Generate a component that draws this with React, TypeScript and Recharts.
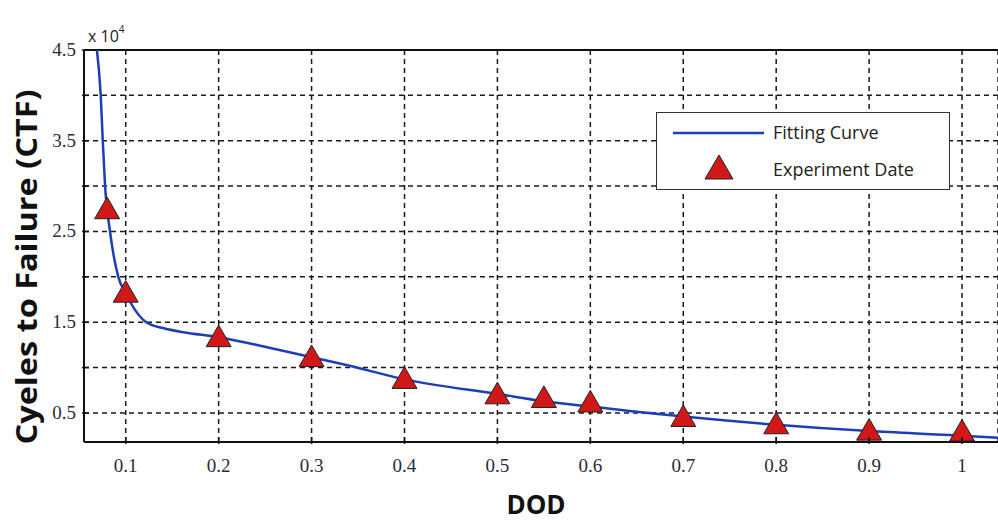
import React from 'react';
import {
  ComposedChart,
  Line,
  Scatter,
  XAxis,
  YAxis,
  ZAxis,
  CartesianGrid,
  ReferenceLine,
} from 'recharts';

// Experiment data (CTF in units of 10^4 cycles)
const expDod = [0.08, 0.1, 0.2, 0.3, 0.4, 0.5, 0.55, 0.6, 0.7, 0.8, 0.9, 1.0];
const expCtf = [2.72, 1.8, 1.31, 1.09, 0.85, 0.68, 0.64, 0.59, 0.43, 0.35, 0.28, 0.27];

// Fitting curve
const fitDod = [0.069, 0.0731, 0.0753, 0.0778, 0.0831, 0.092, 0.1, 0.105, 0.122, 0.142, 0.162, 0.2, 0.252, 0.3, 0.341, 0.4, 0.5, 0.55, 0.6, 0.7, 0.8, 0.9, 1.0, 1.04];
const fitCtf = [4.5, 4.0, 3.5, 3.0, 2.5, 2.0, 1.82, 1.72, 1.5, 1.43, 1.39, 1.335, 1.225, 1.115, 1.02, 0.87, 0.71, 0.63, 0.57, 0.46, 0.37, 0.3, 0.25, 0.225];

const xTicks = [0.1, 0.2, 0.3, 0.4, 0.5, 0.6, 0.7, 0.8, 0.9, 1.0];
const yTicks = [0.5, 1.0, 1.5, 2.0, 2.5, 3.0, 3.5, 4.0, 4.5];
const yLabeled = [0.5, 1.5, 2.5, 3.5, 4.5];

const seriesNames = ['Fitting Curve', 'Experiment Date'];

const fitData = fitDod.map((x, i) => ({ x, y: fitCtf[i] }));
const expData = expDod.map((x, i) => ({ x, y: expCtf[i] }));

const BLUE = '#1c3fb8';
const RED = '#d01818';
const TICK_COLOR = '#2b2b40';

const XTick = (props: any) => {
  const { x, y, payload } = props;
  const v = payload.value;
  const label = v === 1 ? '1' : v.toFixed(1);
  return (
    <g>
      <line x1={x} y1={y} x2={x} y2={y - 7} stroke="#111" strokeWidth={1.5} />
      <text
        x={x}
        y={y + 28}
        textAnchor="middle"
        fontFamily="Liberation Serif"
        fontSize={19}
        fill={TICK_COLOR}
      >
        {label}
      </text>
    </g>
  );
};

const YTick = (props: any) => {
  const { x, y, payload } = props;
  const v = payload.value;
  const show = yLabeled.some((t) => Math.abs(t - v) < 1e-6);
  return (
    <g>
      <line x1={x} y1={y} x2={x + 7} y2={y} stroke="#111" strokeWidth={1.5} />
      {show && (
        <text
          x={x - 6}
          y={y + 6}
          textAnchor="end"
          fontFamily="Liberation Serif"
          fontSize={19}
          fill={TICK_COLOR}
        >
          {v.toFixed(1)}
        </text>
      )}
    </g>
  );
};

const YLabel = (props: any) => {
  const vb = props.viewBox;
  const cx = vb.x + 37;
  const cy = vb.y + vb.height / 2 + 21;
  return (
    <text
      x={cx}
      y={cy}
      transform={`rotate(-90, ${cx}, ${cy})`}
      textAnchor="middle"
      fontFamily="Open Sans"
      fontWeight="bold"
      fontSize={28}
      fill="#111"
      textLength={355}
      lengthAdjust="spacingAndGlyphs"
    >
      Cyeles to Failure (CTF)
    </text>
  );
};

const XLabel = (props: any) => {
  const vb = props.viewBox;
  const cx = vb.x + vb.width / 2 - 5;
  return (
    <text
      x={cx}
      y={vb.y + 72}
      textAnchor="middle"
      fontFamily="Open Sans"
      fontWeight="bold"
      fontSize={26}
      fill="#111"
    >
      DOD
    </text>
  );
};

const LegendBox = () => (
  <div
    style={{
      position: 'absolute',
      left: 656,
      top: 112,
      width: 294,
      height: 78,
      boxSizing: 'border-box',
      border: '1.5px solid #333',
      background: '#fff',
    }}
  >
    <svg width={291} height={75} style={{ display: 'block' }}>
      <line x1={16} y1={20} x2={107} y2={20} stroke={BLUE} strokeWidth={2.5} />
      <text x={116} y={26} fontFamily="Open Sans" fontSize={18} fill="#222">
        {seriesNames[0]}
      </text>
      <polygon points="62,42 48,66 76,66" fill={RED} stroke="#222" strokeWidth={1} />
      <text x={116} y={63} fontFamily="Open Sans" fontSize={18} fill="#222">
        {seriesNames[1]}
      </text>
    </svg>
  </div>
);

export default function App() {
  return (
    <div style={{ position: 'absolute', left: 0, top: 0, width: 998, height: 522, background: '#fff' }}>
      <ComposedChart
        width={998}
        height={522}
        margin={{ top: 50, right: 0, bottom: 0, left: 0 }}
      >
        <CartesianGrid stroke="#1a1a1a" strokeWidth={1.5} strokeDasharray="5 4" />
        <XAxis
          type="number"
          dataKey="x"
          domain={[0.0551, 1.0387]}
          ticks={xTicks}
          allowDataOverflow
          height={80}
          axisLine={{ stroke: '#111', strokeWidth: 2 }}
          tickLine={false}
          tickSize={0}
          tick={<XTick />}
          interval={0}
          label={<XLabel />}
        />
        <YAxis
          type="number"
          dataKey="y"
          domain={[0.18, 4.5]}
          ticks={yTicks}
          allowDataOverflow
          width={84}
          axisLine={{ stroke: '#111', strokeWidth: 2 }}
          tickLine={false}
          tickSize={0}
          tick={<YTick />}
          interval={0}
          label={<YLabel />}
        />
        <ZAxis range={[270, 270]} />
        <ReferenceLine y={4.5} stroke="#111" strokeWidth={2} />
        <Line
          data={fitData}
          dataKey="y"
          type="monotone"
          stroke={BLUE}
          strokeWidth={2.5}
          dot={false}
          isAnimationActive={false}
          name={seriesNames[0]}
        />
        <Scatter
          data={expData}
          dataKey="y"
          shape="triangle"
          fill={RED}
          stroke="#222"
          strokeWidth={1}
          isAnimationActive={false}
          name={seriesNames[1]}
        />
      </ComposedChart>
      <LegendBox />
      <div
        style={{
          position: 'absolute',
          left: 88,
          top: 22,
          fontFamily: 'Open Sans',
          fontSize: 16,
          color: '#222',
          lineHeight: '20px',
          whiteSpace: 'nowrap',
        }}
      >
        x 10<sup style={{ fontSize: 10, position: 'relative', top: -3 }}>4</sup>
      </div>
    </div>
  );
}
